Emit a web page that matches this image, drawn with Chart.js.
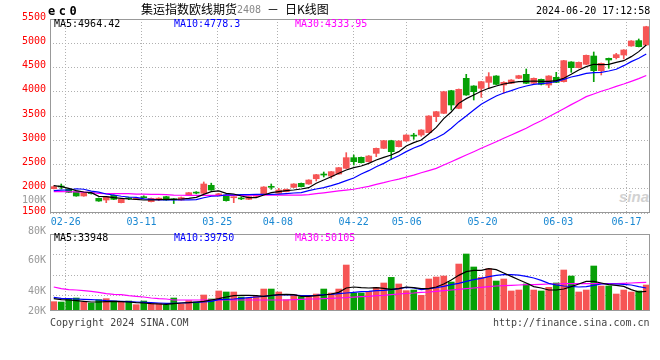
<!DOCTYPE html>
<html><head><meta charset="utf-8">
<script src="https://cdn.jsdelivr.net/npm/chart.js@4.4.1/dist/chart.umd.min.js"></script>
<style>
html,body{margin:0;padding:0;background:#fff;}
#wrap{position:relative;width:660px;height:360px;overflow:hidden;background:#fff;}
canvas{position:absolute;left:0;}
#cMain{top:0;z-index:1;}
#cVol{top:190px;z-index:2;}
.t{position:absolute;white-space:nowrap;font-family:"DejaVu Sans Mono",monospace;font-size:10px;line-height:12px;z-index:3;}
.cjk{font-family:"Noto Sans CJK SC",sans-serif;font-size:12px;line-height:14px;}
</style></head><body><div id="wrap">
<canvas id="cMain" width="660" height="232"></canvas>
<canvas id="cVol" width="660" height="125"></canvas>
<div class="t" style="left:48px;top:4px;font-size:12px;line-height:14px;font-weight:bold;letter-spacing:3.5px;">ec0</div>
<div class="t cjk" style="left:141px;top:2px;color:#000;">集运指数欧线期货</div>
<div class="t" style="left:237px;top:4px;color:#888;">2408</div>
<div class="t cjk" style="left:267px;top:2px;color:#000;">－</div>
<div class="t cjk" style="left:285px;top:2px;color:#000;">日K线图</div>
<div class="t" style="left:536px;top:5px;color:#000;">2024-06-20 17:12:58</div>
<div class="t" style="left:54px;top:18px;color:#000;">MA5:4964.42</div>
<div class="t" style="left:174px;top:18px;color:#0000ff;">MA10:4778.3</div>
<div class="t" style="left:295px;top:18px;color:#ff00ff;">MA30:4333.95</div>
<div class="t" style="left:54px;top:232px;color:#000;">MA5:33948</div>
<div class="t" style="left:174px;top:232px;color:#0000ff;">MA10:39750</div>
<div class="t" style="left:295px;top:232px;color:#ff00ff;">MA30:50105</div>
<div class="t" style="left:50px;top:317px;color:#444;">Copyright 2024 SINA.COM</div>
<div class="t" style="left:493px;top:317px;color:#444;">http://finance.sina.com.cn</div>
<div class="t" style="left:619px;top:189px;font-family:'Liberation Sans',sans-serif;font-size:15px;line-height:16px;font-weight:bold;font-style:italic;color:#d2d2d2;z-index:0;">sina</div>
</div>
<script>
// ---------- data ----------
const dates = ['02-22','02-23','02-26','02-27','02-28','02-29','03-01','03-04','03-05','03-06','03-07','03-08','03-11','03-12','03-13','03-14','03-15','03-18','03-19','03-20','03-21','03-22','03-25','03-26','03-27','03-28','03-29','04-01','04-02','04-03','04-08','04-09','04-10','04-11','04-12','04-15','04-16','04-17','04-18','04-19','04-22','04-23','04-24','04-25','04-26','04-29','04-30','05-06','05-07','05-08','05-09','05-10','05-13','05-14','05-15','05-16','05-17','05-20','05-21','05-22','05-23','05-24','05-27','05-28','05-29','05-30','05-31','06-03','06-04','06-05','06-06','06-07','06-11','06-12','06-13','06-14','06-17','06-18','06-19','06-20'];
const dateTicks = ['02-26','03-11','03-25','04-08','04-22','05-06','05-20','06-03','06-17'];

const open  = [2002,2050,1995,1940,1851,1912,1802,1768,1864,1713,1805,1785,1825,1733,1785,1837,1780,1768,1871,1920,1906,2070,1870,1871,1815,1800,1782,1845,1885,2043,1906,1940,2029,2112,2098,2207,2297,2262,2304,2421,2641,2648,2558,2730,2833,2991,2868,2984,3094,3108,3156,3486,3555,4022,3658,4277,4119,4071,4194,4325,4139,4174,4277,4359,4174,4256,4139,4297,4208,4614,4497,4566,4737,4435,4689,4703,4758,4944,5054,4964];
const high  = [2060,2098,2005,1950,1925,1925,1810,1842,1872,1790,1825,1815,1855,1810,1815,1845,1800,1830,1925,1940,2140,2115,1905,1880,1835,1830,1842,1885,2043,2098,2009,1995,2105,2118,2186,2297,2345,2358,2440,2744,2696,2655,2685,2840,2998,3000,2990,3115,3142,3218,3507,3597,4010,4030,4058,4359,4125,4215,4394,4332,4208,4250,4340,4469,4285,4262,4332,4401,4648,4620,4614,4758,4820,4593,4695,4792,4868,5054,5088,5350];
const low   = [1995,1995,1920,1845,1845,1890,1740,1713,1775,1708,1775,1775,1805,1728,1755,1760,1695,1762,1865,1895,1900,1968,1855,1745,1713,1775,1775,1837,1880,1988,1900,1935,2022,2036,2092,2160,2242,2215,2300,2415,2490,2530,2550,2662,2828,2607,2862,2978,3019,3080,3150,3383,3548,3624,3650,3925,3830,3885,4084,4147,3967,4168,4270,4168,4168,4140,4084,4188,4200,4401,4490,4560,4208,4346,4483,4676,4676,4938,4924,4958];
const close = [2043,2036,1926,1851,1919,1900,1747,1837,1782,1782,1795,1800,1815,1802,1790,1768,1772,1816,1919,1910,2098,1974,1895,1754,1825,1790,1837,1855,2036,2030,1974,1988,2098,2043,2180,2290,2283,2352,2435,2641,2558,2538,2675,2833,2991,2764,2984,3108,3085,3211,3500,3589,4001,3727,4050,3933,4002,4208,4311,4153,4194,4242,4332,4174,4277,4153,4325,4194,4641,4497,4607,4751,4435,4586,4655,4765,4861,5047,4930,5342];

const ma5  = [2064,2043,2009,1960,1933,1919,1844,1837,1816,1802,1789,1782,1768,1768,1775,1782,1782,1789,1802,1823,1885,1940,1954,1906,1892,1851,1816,1816,1871,1919,1940,1960,1974,1995,2022,2112,2180,2249,2318,2387,2435,2469,2524,2593,2648,2696,2765,2882,2950,3005,3129,3266,3445,3583,3761,3858,3933,4009,4071,4119,4160,4187,4208,4215,4222,4215,4215,4229,4277,4359,4449,4517,4566,4559,4566,4607,4641,4724,4827,4964];
const ma10 = [1960,1970,1974,2000,1990,1950,1930,1892,1871,1845,1830,1823,1790,1782,1770,1768,1768,1768,1770,1775,1815,1845,1851,1872,1875,1878,1880,1882,1885,1886,1888,1900,1912,1919,1960,1995,2022,2064,2112,2167,2222,2304,2373,2455,2524,2607,2682,2765,2840,2900,2985,3045,3129,3246,3383,3500,3624,3741,3830,3913,3974,4022,4078,4119,4153,4167,4181,4215,4256,4304,4339,4380,4394,4401,4428,4463,4538,4621,4690,4778];
const ma30 = [1942,1940,1938,1935,1930,1922,1905,1900,1899,1899,1899,1890,1888,1885,1885,1880,1870,1866,1865,1865,1865,1865,1865,1865,1865,1865,1866,1866,1866,1866,1867,1868,1868,1870,1880,1898,1915,1935,1955,1972,1990,2020,2050,2090,2125,2165,2200,2240,2280,2330,2375,2420,2490,2558,2627,2696,2764,2834,2902,2970,3040,3108,3177,3246,3329,3403,3486,3568,3651,3734,3816,3899,3954,4010,4057,4112,4160,4215,4270,4334];

const volume = [16100,15500,21300,22400,15500,13800,19500,21300,17200,15500,17200,10900,17200,13200,13200,10900,22400,12100,17800,15500,27600,20700,34500,32800,32800,24100,22400,25300,37900,37900,32800,19500,28200,24700,24700,29300,37900,31000,37900,79300,31000,31000,33900,40800,48300,58000,46600,35100,36200,27000,55200,58600,60300,50000,81000,98300,75900,58000,73000,51700,55200,34500,36200,46600,36200,34500,40800,48300,70700,60300,32800,36200,77600,43100,43100,29300,36200,32800,34500,44800];
const vma5  = [21300,19500,19000,17800,16700,15500,15500,16100,16700,16100,15500,14400,13800,12600,12100,11500,12600,13800,14400,15500,16700,19000,21300,24100,26400,27000,27000,26400,25300,27000,28200,28700,28200,25300,25300,26400,27600,29300,32200,39700,41400,40200,39700,40200,39100,37400,38500,41400,40200,38500,38500,41400,46600,53400,61500,67800,70100,70100,73000,71300,65500,59800,54000,48300,42000,39700,36200,36200,37900,42000,46600,51100,51100,48300,45400,44300,42500,36800,32800,33900];
const vma10 = [23600,21800,21300,20700,20100,19500,19000,17800,17200,16700,16100,15500,14900,14400,13800,13200,13200,13800,14400,14900,15500,16700,19500,20100,20700,21800,23000,24100,25300,26400,27600,28200,27600,26400,26400,27000,28200,28700,29900,31000,32200,33300,33900,35100,35600,36800,38500,40800,39700,36800,38500,40200,42500,45400,47700,51100,54000,56300,59200,61500,62600,62600,62000,59800,56900,52900,47700,44800,43100,42500,41400,42000,44300,46600,46600,46600,46000,44800,42000,39700];
const vma30 = [41400,38500,36800,36200,35100,33900,32200,29900,28700,28200,26400,25300,24100,22400,21300,20700,19000,19000,19000,19000,19000,19000,19000,19000,19000,19000,19000,19000,19000,19000,19000,19000,19500,20100,20700,20700,21300,21800,22400,23000,24100,24700,25300,26400,27000,28200,29300,30500,31000,32200,32800,33900,35100,36200,37400,38500,39700,40800,42000,43100,43700,44300,44800,45400,45400,46000,46600,46600,47100,47100,47100,47100,47100,47100,47100,47100,47700,48300,48800,49400];

// volume axis: where Sina prints its labels, and where its dotted rules sit
const volTickLabels = ['100K','80K','60K','40K','20K'];
const volTickValues = [191400,137900,87900,34500,0];
const volGridValues = [96900,61600,26200];

// ---------- styling ----------
const UP = '#f65555', DOWN = '#06a006';
const GRID = '#b0b0b0';
const MONO = {family:'DejaVu Sans Mono', size:10};
const dirColors = close.map((c,i)=> c >= open[i] ? UP : DOWN);

const framePlugin = {
  id:'frame',
  afterDraw(chart){
    const {ctx, chartArea:a} = chart;
    ctx.save();
    ctx.strokeStyle = '#999';
    ctx.lineWidth = 1;
    ctx.setLineDash([]);
    ctx.strokeRect(Math.round(a.left)+0.5, Math.round(a.top)+0.5, Math.round(a.right-a.left)-1, Math.round(a.bottom-a.top)-1);
    ctx.restore();
  }
};

const dateAxis = (showLabels) => ({
  type:'linear', position:'bottom', min:-0.07, max:79.1, offset:false, beginAtZero:false,
  afterBuildTicks: s => { s.ticks = dateTicks.map(d => ({value: dates.indexOf(d)})); },
  ticks:{display:showLabels, callback:(v,i)=>dateTicks[i], color:'#1a88d2', font:MONO, padding:3, maxRotation:0, autoSkip:false},
  grid:{color:GRID, drawTicks:false, lineWidth:1, offset:false, borderDash:[1,2]},
  border:{display:false, dash:[1,2]},
  afterFit: s => { s.height = showLabels ? 19 : 0; s.paddingLeft = 0; s.paddingRight = 0; }
});

const valueAxisFit = s => { s.width = 50; s.paddingTop = 0; s.paddingBottom = 0; };

const lineDs = (data, color) => ({type:'line', data, borderColor:color, borderWidth:1.2, pointRadius:0, tension:0, fill:false, order:0});

const common = {
  responsive:false, animation:false, devicePixelRatio:1, events:[],
  plugins:{legend:{display:false}, tooltip:{enabled:false}, title:{display:false}},
};

new Chart(document.getElementById('cMain'), {
  type:'bar',
  data:{
    labels: dates,
    datasets:[
      lineDs(ma5,'#000000'), lineDs(ma10,'#0000ff'), lineDs(ma30,'#ff00ff'),
      {type:'bar', data: open.map((o,i)=>[o, close[i]]), backgroundColor: dirColors, barThickness:6, minBarLength:1, grouped:false, order:1},
      {type:'bar', data: low.map((l,i)=>[l, high[i]]), backgroundColor: dirColors, barThickness:1, grouped:false, order:2}
    ]
  },
  options:Object.assign({}, common, {
    layout:{padding:{left:0, right:10, top:19, bottom:0}},
    scales:{
      x:{type:'category', display:false, offset:true},
      xd: dateAxis(true),
      y:{type:'linear', position:'left', min:1500, max:5500, beginAtZero:false,
         ticks:{stepSize:500, callback:v=>String(v), color:'#ff0000', font:MONO, padding:4, labelOffset:-2, autoSkip:false},
         grid:{color:GRID, drawTicks:false, borderDash:[1,2]},
         border:{display:false, dash:[1,2]},
         afterFit: valueAxisFit}
    }
  }),
  plugins:[framePlugin]
});

const volTicks = volGridValues.map(v=>({value:v, lab:''})).concat(volTickValues.map((v,k)=>({value:v, lab:volTickLabels[k]})));

new Chart(document.getElementById('cVol'), {
  type:'bar',
  data:{
    labels: dates,
    datasets:[
      lineDs(vma5,'#000000'), lineDs(vma10,'#0000ff'), lineDs(vma30,'#ff00ff'),
      {type:'bar', data: volume, backgroundColor: dirColors, barThickness:6, grouped:false, order:1}
    ]
  },
  options:Object.assign({}, common, {
    layout:{padding:{left:0, right:10, top:44, bottom:4}},
    scales:{
      x:{type:'category', display:false, offset:true},
      xd: dateAxis(false),
      y:{type:'linear', position:'left', min:0, max:132800,
         afterBuildTicks: s => { s.ticks = volTicks.map(t=>Object.assign({}, t)); },
         ticks:{callback:(v,i,t)=> (t[i] && t[i].lab) || '', color:'#999', font:MONO, padding:4, autoSkip:false},
         grid:{color: c => (c.tick && c.tick.lab) ? 'rgba(0,0,0,0)' : GRID, drawTicks:false, borderDash:[1,2]},
         border:{display:false, dash:[1,2]},
         afterFit: valueAxisFit}
    }
  }),
  plugins:[framePlugin]
});
</script>
</body></html>
